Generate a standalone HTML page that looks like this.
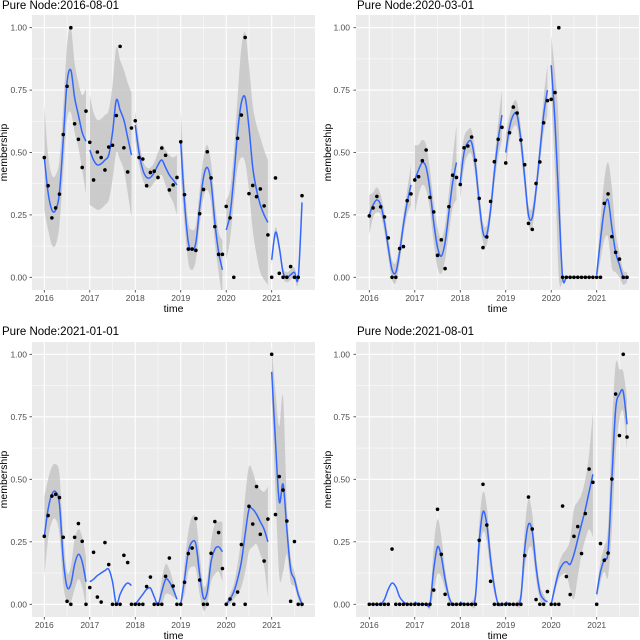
<!DOCTYPE html>
<html><head><meta charset="utf-8"><style>
html,body{margin:0;padding:0;background:#fff;}
svg{display:block;font-family:"Liberation Sans",sans-serif;}
</style></head><body>
<svg id="chart" width="640" height="640" viewBox="0 0 640 640"></svg>
<script>
// ---- data (months since 2016-01; fits per calendar-year segment) ----
const panelTitles = ["Pure Node:2016-08-01","Pure Node:2020-03-01","Pure Node:2021-01-01","Pure Node:2021-08-01"];
const xTickLabels = ["2016","2017","2018","2019","2020","2021"];
const yTickLabels = ["0.00","0.25","0.50","0.75","1.00"];
const yTickValues = [0,0.25,0.5,0.75,1];

const p1Points = [.48,.367,.238,.278,.333,.572,.765,1.0,.615,.553,.44,.666,
 .541,.39,.502,.48,.43,.522,.529,.648,.925,.519,.422,.598,
 .627,.48,.474,.367,.42,.425,.40,.518,.489,.35,.37,.40,
 .543,.331,.113,.113,.108,.255,.352,.503,.398,.203,.092,.092,
 .284,.238,0,.557,.65,.961,.335,.368,.323,.354,.286,.17,
 0,.398,.016,0,0,.043,0,0,.327];
const p1Fit = [[.48,.34,.27,.27,.34,.55,.78,.83,.72,.65,.58,.545],
 [.51,.47,.45,.455,.47,.49,.58,.71,.67,.63,.56,.49],
 [.61,.50,.43,.40,.40,.42,.45,.47,.44,.41,.39,.37],
 [.54,.30,.14,.11,.14,.28,.40,.44,.38,.22,.10,.03],
 [.19,.25,.40,.58,.70,.72,.60,.44,.35,.29,.25,.22],
 [.07,.18,.12,.02,0,.01,.02,0,.30]];
const p1Band = [[.21,.15,.14,.14,.13,.13,.15,.17,.14,.13,.15,.21],
 [.22,.19,.18,.18,.18,.18,.19,.21,.2,.2,.22,.25],
 [.06,.05,.04,.04,.04,.04,.05,.06,.07,.08,.09,.12],
 [.13,.09,.08,.08,.07,.07,.08,.09,.08,.08,.08,.12],
 [.12,.1,.1,.14,.22,.26,.25,.25,.26,.27,.26,.25],
 [.02,.02,.02,.02,.02,.02,.02,.02,.02]];

const p2Points = [.246,.278,.324,.282,.242,.158,0,0,.115,.123,.307,.334,
 .39,.403,.467,.51,.32,.262,.088,.15,.035,.283,.409,.40,
 .372,.519,.526,.562,.469,.316,.119,.162,.304,.463,.553,.601,
 .458,.579,.682,.658,.55,.451,.216,.192,.376,.462,.619,.708,
 .713,.74,1.0,0,0,0,0,0,0,0,0,0,
 0,0,.296,.334,.163,.10,.073,0,0];
const p2Fit = [[.25,.29,.31,.29,.22,.12,.03,.02,.10,.21,.30,.37],
 [.39,.43,.46,.44,.35,.22,.12,.085,.14,.26,.38,.46],
 [.38,.50,.54,.54,.45,.30,.18,.17,.27,.42,.55,.65],
 [.50,.60,.65,.65,.55,.40,.25,.24,.35,.50,.65,.75],
 [.85,.62,.30,0,0,0,0,0,0,0,0,0],
 [.01,.15,.27,.31,.20,.10,.05,0,0]];
const p2Band = [[.08,.05,.05,.04,.04,.04,.04,.04,.04,.04,.05,.08],
 [.14,.1,.09,.09,.08,.08,.08,.07,.07,.08,.1,.15],
 [.07,.06,.05,.05,.05,.05,.04,.04,.04,.05,.07,.1],
 [.07,.05,.05,.05,.05,.05,.04,.04,.04,.05,.07,.1],
 [.12,.2,.3,.02,0,0,0,0,0,0,0,0],
 [.02,.08,.12,.15,.16,.08,.05,.03,.02]];

const p3Points = [.272,.355,.433,.44,.427,.268,.012,0,.268,.323,.252,0,
 .067,.208,.029,.009,.247,.159,0,0,0,.196,.167,0,
 0,0,0,.071,.109,0,0,0,.112,.185,.073,0,
 0,.088,.203,.225,.343,.097,0,0,.204,.331,.287,.143,
 0,.021,0,.049,.239,0,.392,.321,.471,.28,.173,.341,
 1.0,.359,.511,.457,.333,.012,.251,0,0];
const p3Fit = [[.27,.38,.44,.45,.40,.18,.07,.08,.16,.20,.17,.09],
 [.09,.10,.115,.125,.135,.14,.09,0,.04,.07,.085,.075],
 [0,.02,.04,.06,.065,.03,0,.05,.10,.09,.06,.02],
 [0,.10,.21,.25,.24,.12,.025,.05,.17,.22,.23,.21],
 [0,.02,.05,.10,.17,.28,.38,.38,.36,.33,.30,.25],
 [.93,.65,.41,.48,.30,.14,.10,.04,0]];
const p3Band = [[.16,.12,.11,.11,.12,.1,.06,.07,.1,.1,.1,.1],
 [0,0,0,0,0,0,0,0,0,0,0,0],
 [0,0,0,0,0,0,0,.05,.06,.05,.03,0],
 [0,.06,.08,.1,.1,.08,.05,.05,.08,.1,.1,.12],
 [.01,.02,.03,.06,.1,.15,.17,.15,.12,.13,.15,.22],
 [.1,.2,.3,.35,.1,.05,.03,.02,.02]];

const p4Points = [0,0,0,0,0,0,.221,0,0,0,0,0,
 0,0,0,0,0,.057,.38,.2,.04,0,0,0,
 0,0,0,0,0,.256,.48,.317,.092,0,0,0,
 0,0,0,0,0,.195,.429,.301,.019,0,0,.051,
 0,0,0,.393,.111,.039,.272,.311,.203,.363,.541,.488,
 0,.243,.176,.205,.501,.841,.675,1.0,.669];
const p4Fit = [[0,0,0,0,.02,.06,.085,.07,.03,.01,0,0],
 [.01,0,0,0,0,.14,.23,.19,.10,.03,0,0],
 [.01,0,0,0,.03,.25,.37,.32,.18,.07,0,0],
 [.01,0,0,0,.03,.22,.32,.29,.15,.05,.02,.01],
 [0,.07,.13,.16,.17,.16,.2,.26,.32,.38,.45,.52],
 [.04,.13,.18,.21,.50,.78,.84,.85,.72]];
const p4Band = [[0,0,0,0,0,0,0,0,0,0,0,0],
 [0,0,0,0,.02,.09,.11,.08,.04,.02,0,0],
 [0,0,0,.01,.03,.07,.08,.07,.05,.03,0,0],
 [0,0,0,.01,.03,.08,.1,.07,.05,.03,.02,0],
 [.01,.02,.03,.04,.05,.1,.18,.15,.12,.12,.15,.25],
 [.02,.04,.05,.1,.2,.18,.1,.08,.1]];

// ---- layout ----
const NS = "http://www.w3.org/2000/svg";
const svg = document.getElementById("chart");
function mk(tag, attrs, parent){ const e=document.createElementNS(NS,tag); for(const k in attrs) e.setAttribute(k,attrs[k]); (parent||svg).appendChild(e); return e; }

const panels = [
 {x0:32, x1:315, y0:15, y1:290, x2016:44.3, x2021:271.7, yZero:277.3, yOne:27.7, pts:p1Points, fit:p1Fit, band:p1Band, ylabX:29, memX:7, titleX:2, titleY:9},
 {x0:356, x1:639, y0:15, y1:290, x2016:369.3, x2021:596.7, yZero:277.3, yOne:27.7, pts:p2Points, fit:p2Fit, band:p2Band, ylabX:352, memX:331, titleX:357, titleY:9},
 {x0:32, x1:315, y0:342, y1:617, x2016:44.3, x2021:271.7, yZero:604.3, yOne:354.3, pts:p3Points, fit:p3Fit, band:p3Band, ylabX:29, memX:7, titleX:2, titleY:335},
 {x0:356, x1:639, y0:342, y1:617, x2016:369.3, x2021:596.7, yZero:604.3, yOne:354.3, pts:p4Points, fit:p4Fit, band:p4Band, ylabX:352, memX:331, titleX:357, titleY:335}
];

function smoothPath(pts){
  if(pts.length<2) return "";
  let d="M"+pts[0][0].toFixed(2)+","+pts[0][1].toFixed(2);
  for(let i=0;i<pts.length-1;i++){
    const p0=pts[Math.max(0,i-1)], p1=pts[i], p2=pts[i+1], p3=pts[Math.min(pts.length-1,i+2)];
    const c1x=p1[0]+(p2[0]-p0[0])/6, c1y=p1[1]+(p2[1]-p0[1])/6;
    const c2x=p2[0]-(p3[0]-p1[0])/6, c2y=p2[1]-(p3[1]-p1[1])/6;
    d+=" C"+c1x.toFixed(2)+","+c1y.toFixed(2)+" "+c2x.toFixed(2)+","+c2y.toFixed(2)+" "+p2[0].toFixed(2)+","+p2[1].toFixed(2);
  }
  return d;
}

panels.forEach((P, pi) => {
  const g = mk("g", {});
  
  
  const xs = m => P.x2016 + (P.x2021 - P.x2016) * m / 60;
  const ys = v => P.yZero - (P.yZero - P.yOne) * v;

  const t = mk("text", {x:P.titleX, y:P.titleY, "font-size":"11.5", fill:"#000"}, g);
  t.textContent = panelTitles[pi];
  
  

  const bg = mk("rect", {x:P.x0, y:P.y0, width:P.x1-P.x0, height:P.y1-P.y0, fill:"#EBEBEB"}, g);
  
  

  const cid = "clip"+pi;
  const cp = mk("clipPath", {id:cid}, g);
  mk("rect", {x:P.x0, y:P.y0, width:P.x1-P.x0, height:P.y1-P.y0}, cp);

  // grid
  for(let i=0;i<4;i++){ const v=yTickValues[i]+0.125; mk("line",{x1:P.x0,x2:P.x1,y1:ys(v),y2:ys(v),stroke:"#fff","stroke-width":0.5},g); }
  for(let i=0;i<6;i++){ const m=i*12+6; mk("line",{x1:xs(m),x2:xs(m),y1:P.y0,y2:P.y1,stroke:"#fff","stroke-width":0.5},g); }
  const xm=-6; mk("line",{x1:xs(xm),x2:xs(xm),y1:P.y0,y2:P.y1,stroke:"#fff","stroke-width":0.5},g);
  yTickValues.forEach(v => mk("line",{x1:P.x0,x2:P.x1,y1:ys(v),y2:ys(v),stroke:"#fff","stroke-width":1.1},g));
  xTickLabels.forEach((l,i) => mk("line",{x1:xs(i*12),x2:xs(i*12),y1:P.y0,y2:P.y1,stroke:"#fff","stroke-width":1.1},g));

  // ticks and labels
  yTickValues.forEach((v,i) => {
    mk("line",{x1:P.x0-2.5,x2:P.x0,y1:ys(v),y2:ys(v),stroke:"#333","stroke-width":0.8},g);
    const tl = mk("text",{x:P.ylabX-2,y:ys(v)+3,"font-size":"8.5","text-anchor":"end",fill:"#4D4D4D"},g);
    tl.textContent = yTickLabels[i];
    
    
  });
  xTickLabels.forEach((l,i) => {
    mk("line",{x1:xs(i*12),x2:xs(i*12),y1:P.y1,y2:P.y1+2.5,stroke:"#333","stroke-width":0.8},g);
    const tl = mk("text",{x:xs(i*12),y:P.y1+11,"font-size":"8.5","text-anchor":"middle",fill:"#4D4D4D"},g);
    tl.textContent = l;
    
    
  });
  const xt = mk("text",{x:(P.x0+P.x1)/2,y:P.y1+22,"font-size":"10.5","text-anchor":"middle",fill:"#000"},g);
  xt.textContent = "time";
  
  
  const yt = mk("text",{x:0,y:0,"font-size":"10.5","text-anchor":"middle",fill:"#000",transform:"translate("+P.memX+","+((P.y0+P.y1)/2)+") rotate(-90)"},g);
  yt.textContent = "membership";
  
  

  const inner = mk("g", {"clip-path":"url(#"+cid+")"}, g);
  // bands
  P.fit.forEach((seg, si) => {
    const up = seg.map((v,k)=>[xs(si*12+k), ys(v+P.band[si][k])]);
    const lo = seg.map((v,k)=>[xs(si*12+k), ys(v-P.band[si][k])]).reverse();
    let d = smoothPath(up);
    const ld = smoothPath(lo);
    d += " L" + ld.slice(1) + " Z";
    const b = mk("path",{d:d,fill:"#BDBDBD","fill-opacity":0.7,stroke:"none"},inner);
    
    
  });
  // curves
  P.fit.forEach((seg, si) => {
    const pts = seg.map((v,k)=>[xs(si*12+k), ys(v)]);
    const c = mk("path",{d:smoothPath(pts),fill:"none",stroke:"#3366FF","stroke-width":1.5},inner);
    
    
  });
  // points
  P.pts.forEach((v,m) => {
    const c = mk("circle",{cx:xs(m),cy:ys(v),r:1.8,fill:"#000"},inner);
    
    
  });
});
</script>
</body></html>
